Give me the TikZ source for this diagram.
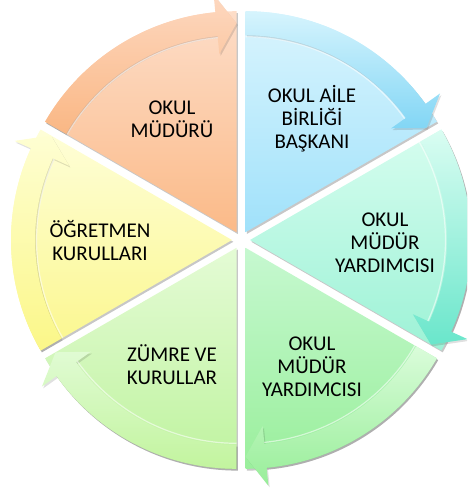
\documentclass[tikz,border=0pt]{standalone}
\usepackage{fontspec}
\setmainfont{Carlito}
\usetikzlibrary{calc}
% slice top/bottom, band top/bottom
\definecolor{orST}{HTML}{FDDDC8}\definecolor{orSB}{HTML}{FBBA88}
\definecolor{orBT}{HTML}{FDD8C0}\definecolor{orBB}{HTML}{FAB784}
\definecolor{blST}{HTML}{DAF5FE}\definecolor{blSB}{HTML}{A0E1FA}
\definecolor{blBT}{HTML}{D6F4FD}\definecolor{blBB}{HTML}{82D6F5}
\definecolor{tqST}{HTML}{D6FDEF}\definecolor{tqSB}{HTML}{9DF2D6}
\definecolor{tqBT}{HTML}{DAFDF2}\definecolor{tqBB}{HTML}{6AE6CB}
\definecolor{grST}{HTML}{C6F8D0}\definecolor{grSB}{HTML}{9AEF9C}
\definecolor{grBT}{HTML}{DAFCDA}\definecolor{grBB}{HTML}{98EE99}
\definecolor{lgST}{HTML}{E4FBD5}\definecolor{lgSB}{HTML}{BFF39F}
\definecolor{lgBT}{HTML}{E0FBD3}\definecolor{lgBB}{HTML}{C2F49E}
\definecolor{yeST}{HTML}{FEFED8}\definecolor{yeSB}{HTML}{FBF78E}
\definecolor{yeBT}{HTML}{FEFED2}\definecolor{yeBB}{HTML}{FBF788}
\begin{document}
\begin{tikzpicture}[x=1pt,y=1pt,
  lbl/.style={align=center, font=\fontsize{21}{23}\selectfont, text=black, anchor=base, inner sep=0pt},
  shade/.style={black, opacity=.22}]
\useasboundingbox (0,0) rectangle (467,-493);
\clip (0,0) rectangle (467,-493);
\coordinate (C) at (241,-240);
% slice shadows
\foreach \a in {90,30,-30,-90,-150,150} {
  \pgfmathsetmacro\b{\a+60}\pgfmathsetmacro\m{\a+30}
  \coordinate (K) at ($(C)+(\m:9pt)+(1.3pt,-1.8pt)$);
  \fill[shade] (K) -- ($(K)+(\a:221pt)$) arc[start angle=\a,end angle=\b,radius=221pt] -- cycle;
}
% slices
\foreach \a/\st/\sb in {90/orST/orSB,30/blST/blSB,-30/tqST/tqSB,-90/grST/grSB,-150/lgST/lgSB,150/yeST/yeSB} {
  \pgfmathsetmacro\b{\a+60}\pgfmathsetmacro\m{\a+30}
  \coordinate (K) at ($(C)+(\m:9pt)$);
  \path[top color=\st, bottom color=\sb] (K) -- ($(K)+(\a:221pt)$) arc[start angle=\a,end angle=\b,radius=221pt] -- cycle;
}
% band shadows
\foreach \a in {90,30,-30,-90,-150,150} {
  \pgfmathsetmacro\b{\a+60}\pgfmathsetmacro\m{\a+30}\pgfmathsetmacro\h{\a+5.5}
  \coordinate (K) at ($(C)+(\m:9pt)+(1.3pt,-1.8pt)$);
  \fill[black,opacity=.12] ($(K)+(\b:221pt)$) arc[start angle=\b,end angle=\h,radius=221pt]
    -- ($(K)+(\h:239pt)$) -- ($(K)+(\a:209pt)$) -- ($(K)+(\h:179pt)$) -- ($(K)+(\h:197pt)$)
    arc[start angle=\h,end angle=\b,radius=197pt] -- cycle;
}
% bands (curved arrows)
\foreach \a/\bt/\bb in {90/orBT/orBB,30/blBT/blBB,-30/tqBT/tqBB,-90/grBT/grBB,-150/lgBT/lgBB,150/yeBT/yeBB} {
  \pgfmathsetmacro\b{\a+60}\pgfmathsetmacro\m{\a+30}\pgfmathsetmacro\h{\a+5.5}
  \coordinate (K) at ($(C)+(\m:9pt)$);
  \path[top color=\bt, bottom color=\bb] ($(K)+(\b:221pt)$) arc[start angle=\b,end angle=\h,radius=221pt]
    -- ($(K)+(\h:239pt)$) -- ($(K)+(\a:209pt)$) -- ($(K)+(\h:179pt)$) -- ($(K)+(\h:197pt)$)
    arc[start angle=\h,end angle=\b,radius=197pt] -- cycle;
  \draw[white,opacity=.55,line width=1.2pt] ($(K)+(\b:195.5pt)$) arc[start angle=\b,end angle=\h,radius=195.5pt];
}
% labels (anchor base = last line's baseline)
\node[lbl] (l1) at (172,-137) {OKUL\\MÜDÜRÜ};
\node[lbl] (l2) at (312,-148) {OKUL AİLE\\BİRLİĞİ\\BAŞKANI};
\node[lbl] (l3) at (385,-272) {OKUL\\MÜDÜR\\YARDIMCISI};
\node[lbl] (l4) at (312,-396) {OKUL\\MÜDÜR\\YARDIMCISI};
\node[lbl] (l5) at (172,-384) {ZÜMRE VE\\KURULLAR};
\node[lbl] (l6) at (100,-260) {ÖĞRETMEN\\KURULLARI};
\end{tikzpicture}
\end{document}
